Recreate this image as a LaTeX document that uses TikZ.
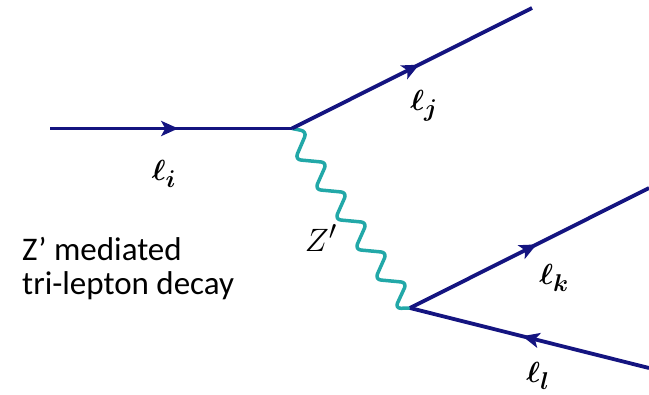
\documentclass[tikz,border=0pt]{standalone}
\usepackage{fontspec}
\usetikzlibrary{arrows.meta,decorations.markings}
\newfontfamily\calib{Carlito}
\definecolor{navyline}{RGB}{20,20,128}
\definecolor{tealline}{RGB}{34,168,168}
\tikzset{
  fermion/.style={draw=navyline, line width=3.8pt, postaction={decorate},
    decoration={markings, mark=at position #1 with {\arrow{Stealth[length=17pt,width=15pt,inset=4pt]}}}},
  fermion/.default=0.53,
  photon/.style={draw=tealline, line width=3.5pt, rounded corners=6pt, line join=round, line cap=round},
  lbl/.style={inner sep=0pt, scale=1.17, font=\fontsize{24.88}{30}\selectfont\boldmath},
  zlbl/.style={inner sep=0pt, scale=1.3, font=\fontsize{24.88}{30}\selectfont},
  caption/.style={inner sep=0pt, anchor=base west, font=\calib\fontsize{33}{39}\selectfont}
}
\begin{document}
\begin{tikzpicture}[x=1pt,y=-1pt]
\useasboundingbox (0,0) rectangle (649,395);
\coordinate (A) at (50,128.5);
\coordinate (V1) at (292,128.5);
\coordinate (J) at (532,8);
\coordinate (V2) at (410,308);
\coordinate (K) at (649,188);
\coordinate (L) at (649,368);
% photon
\draw[photon] (V1) -- ++(15,3) -- ++(-12,28) -- ++(32,3) -- ++(-12,27) -- ++(32,3) -- ++(-12,27) -- ++(32,3) -- ++(-12,27) -- ++(32,3) -- ++(-12,27) -- ++(32,3) -- ++(-12,26) -- (V2);
% fermions
\draw[fermion] (A) -- (V1);
\draw[fermion] (V1) -- (J);
\draw[fermion] (V2) -- (K);
\draw[fermion] (L) -- (V2);
% labels
\node[lbl] (li) at (164,174) {$\ell_i$};
\node[lbl] (lj) at (424,106) {$\ell_j$};
\node[lbl] (lk) at (554,278) {$\ell_k$};
\node[lbl] (ll) at (538,376) {$\ell_l$};
\node[zlbl] (zp) at (321,238) {$Z'$};
\node[caption] (c1) at (22,261) {Z’ mediated};
\node[caption] (c2) at (22,295) {tri-lepton decay};
\end{tikzpicture}
\end{document}
